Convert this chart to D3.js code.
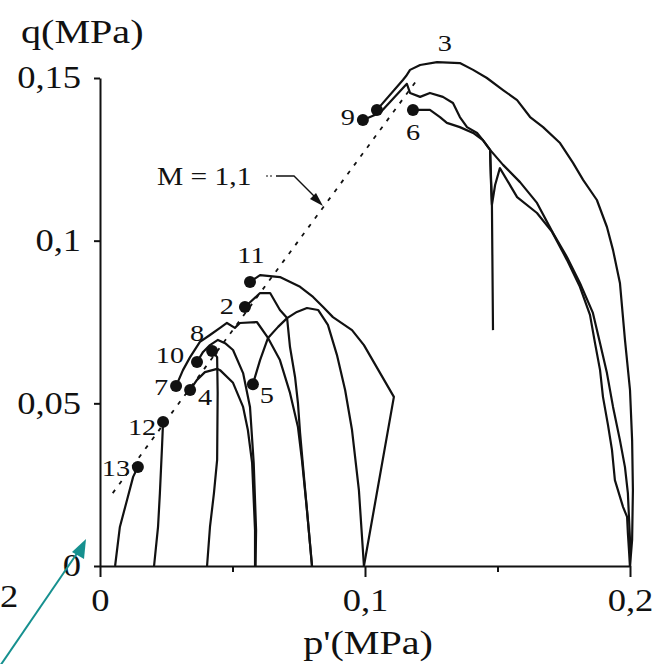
<!DOCTYPE html>
<html>
<head>
<meta charset="utf-8">
<script src="https://cdn.jsdelivr.net/npm/d3@7"></script>
<style>
  body { margin: 0; background: #fff; }
  svg text { font-family: "Liberation Serif", "Times New Roman", serif; fill: #111; }
</style>
</head>
<body>
<script>
// stress paths, each point is [p' (MPa), q (MPa)], from start (q = 0) to end
const path13 = [[0.0057,0],[0.0075,0.012],[0.0102,0.0203],[0.0125,0.0274],[0.0143,0.0304]];
const path12 = [[0.0204,0],[0.0219,0.012],[0.0226,0.0224],[0.0234,0.0366],[0.0238,0.0443]];
const path8  = [[0.0404,0],[0.0415,0.012],[0.043,0.0224],[0.0442,0.0326],[0.0444,0.0532],[0.0442,0.0642],[0.0423,0.0661]];
const path4  = [[0.0585,0],[0.0585,0.011],[0.0574,0.0317],[0.0558,0.0418],[0.054,0.0489],[0.0502,0.0563],
                [0.0453,0.0602],[0.0442,0.0606],[0.0396,0.0596],[0.0366,0.0572],[0.034,0.0541]];
const path10 = [[0.0587,0],[0.0589,0.011],[0.058,0.0317],[0.0566,0.0489],[0.054,0.0593],[0.0502,0.0664],
                [0.0472,0.0685],[0.0445,0.0695],[0.0415,0.0679],[0.0389,0.0658],[0.0366,0.0627]];
const path7  = [[0.08,0],[0.0781,0.0172],[0.0762,0.0326],[0.0747,0.0427],[0.0717,0.0532],[0.0679,0.0633],
                [0.0634,0.0701],[0.0592,0.075],[0.0528,0.0747],[0.0509,0.0732],[0.0479,0.0747],[0.0453,0.0732],
                [0.0415,0.071],[0.0377,0.0689],[0.034,0.0642],[0.0313,0.0602],[0.0287,0.0553]];
const path2  = [[0.08,0],[0.0781,0.0172],[0.0764,0.0326],[0.0755,0.0409],[0.0747,0.0501],[0.0736,0.0581],
                [0.0717,0.0673],[0.0706,0.0762],[0.0679,0.0787],[0.0642,0.0839],[0.0604,0.0839],[0.0547,0.0796]];
const path5  = [[0.0996,0],[0.0977,0.0233],[0.0951,0.0418],[0.0925,0.0541],[0.0894,0.0649],[0.086,0.0741],
                [0.0823,0.0787],[0.0781,0.0793],[0.0743,0.0781],[0.0706,0.0762],[0.0672,0.0735],[0.0634,0.0701],
                [0.0604,0.0633],[0.0577,0.0559]];
const path11 = [[0.0996,0],[0.1109,0.052],[0.0996,0.0679],[0.0951,0.0725],[0.0879,0.0765],[0.0842,0.0796],
                [0.0804,0.0827],[0.0755,0.0858],[0.0679,0.0888],[0.0604,0.0894],[0.0566,0.0873]];
const path3  = [[0.2,0],[0.2008,0.008],[0.2011,0.0234],[0.2008,0.0387],[0.2,0.0541],[0.1981,0.0695],[0.1962,0.087],
                [0.1936,0.0971],[0.1913,0.1042],[0.1875,0.1125],[0.1823,0.1187],[0.1785,0.1239],[0.1736,0.13],
                [0.1672,0.1349],[0.1623,0.138],[0.1574,0.1432],[0.1521,0.1463],[0.146,0.15],[0.1408,0.1525],
                [0.1358,0.1546],[0.1272,0.1549],[0.1208,0.154],[0.117,0.1525],[0.1155,0.1506],[0.1143,0.1494],[0.1045,0.1402]];
const path9  = [[0.2,0],[0.2,0.008],[0.1992,0.0224],[0.1981,0.0304],[0.1962,0.0387],[0.1936,0.0489],[0.1913,0.0593],
                [0.1887,0.0685],[0.186,0.0778],[0.1811,0.087],[0.1762,0.095],[0.1709,0.1024],[0.1649,0.1116],
                [0.1585,0.118],[0.1521,0.1233],[0.1472,0.1279],[0.1445,0.1309],[0.1423,0.1331],[0.1385,0.1349],
                [0.1358,0.138],[0.1332,0.1423],[0.1294,0.1442],[0.1245,0.1454],[0.1208,0.1442],[0.117,0.1454],
                [0.1158,0.1482],[0.1057,0.1393],[0.0992,0.1371]];
const path6  = [[0.2,0],[0.1992,0.0101],[0.1989,0.0151],[0.1974,0.0181],[0.1943,0.0264],[0.1932,0.0357],[0.1917,0.0433],
                [0.1898,0.052],[0.1887,0.0602],[0.1868,0.0685],[0.1849,0.0772],[0.1811,0.0858],[0.1762,0.0941],
                [0.1706,0.1027],[0.1649,0.1085],[0.1574,0.1134],[0.1509,0.1223],[0.1491,0.1171],[0.1479,0.111],
                [0.1475,0.1187],[0.1472,0.1279],[0.1445,0.1309],[0.1408,0.1331],[0.1358,0.1349],[0.1309,0.1362],
                [0.1283,0.138],[0.1245,0.1402],[0.1208,0.1402],[0.1181,0.1402]];
const path6drop = [[0.1472,0.1279],[0.1479,0.111],[0.1483,0.0725]];

// critical state line M = 1,1 (dashed), two ends
const csl = [[0.0048,0.0224],[0.1196,0.1494]];

// end points (filled dots) and their test numbers
const endIds = ["13","12","7","4","10","8","5","2","11","3","9","6"];
const endPts = [[0.0143,0.0304],[0.0238,0.0443],[0.0287,0.0553],[0.034,0.0541],[0.0366,0.0627],[0.0423,0.0661],
                [0.0577,0.0559],[0.0547,0.0796],[0.0566,0.0873],[0.1045,0.1402],[0.0992,0.1371],[0.1181,0.1402]];

const yTicks = [0, 0.05, 0.1, 0.15];
const xTicks = [0, 0.1, 0.2];
const xMinor = [0.05, 0.15];

const width = 661, height = 664;
const svg = d3.select("body").append("svg")
    .attr("width", width)
    .attr("height", height);

const x = d3.scaleLinear().domain([0, 0.2]).range([100, 630]);
const y = d3.scaleLinear().domain([0, 0.15]).range([566, 78]);
const comma = d => d3.format("")(d).replace(".", ",");

// horizontal stretch of the scanned lettering
const SX = 1.18;

// axes
const yAxis = svg.append("g")
    .attr("transform", "translate(100,0)")
    .call(d3.axisLeft(y).tickValues(yTicks).tickSize(6).tickSizeOuter(0).tickPadding(10).tickFormat(comma));
const xAxis = svg.append("g")
    .attr("transform", "translate(0,566)")
    .call(d3.axisBottom(x).tickValues(xTicks).tickSize(11).tickSizeOuter(0).tickPadding(12).tickFormat(comma));
svg.append("g")
    .attr("transform", "translate(0,566)")
    .call(d3.axisBottom(x).tickValues(xMinor).tickSize(6).tickSizeOuter(0).tickFormat(""))
    .select(".domain").remove();

svg.selectAll(".domain, .tick line").attr("stroke", "#111").attr("stroke-width", 2);
svg.selectAll(".tick text")
    .attr("font-size", 31)
    .attr("fill", "#111");
yAxis.selectAll(".tick text").attr("transform", `scale(${SX},1)`);
xAxis.selectAll(".tick text").attr("transform", `scale(${SX},1)`);

// text helper
function label(px, py, txt, size, anchor) {
  svg.append("text")
      .attr("transform", `translate(${px},${py}) scale(${SX},1)`)
      .attr("text-anchor", anchor || "middle")
      .attr("font-size", size)
      .text(txt);
}

label(21, 43, "q(MPa)", 34, "start");
label(368, 654, "p'(MPa)", 34, "middle");
// tick label of the neighbouring panel, only its last digit shows at the edge
label(0, 607, "2", 31, "start");

// critical state line
svg.append("path")
    .attr("d", d3.line().x(d => x(d[0])).y(d => y(d[1]))(csl))
    .attr("fill", "none")
    .attr("stroke", "#111")
    .attr("stroke-width", 1.8)
    .attr("stroke-dasharray", "4,7");

// stress paths
const line = d3.line().x(d => x(d[0])).y(d => y(d[1]));
const paths = [path13, path12, path8, path4, path10, path7, path2, path5, path11, path3, path9, path6, path6drop];
svg.selectAll("path.sp")
    .data(paths)
    .enter().append("path")
    .attr("class", "sp")
    .attr("d", line)
    .attr("fill", "none")
    .attr("stroke", "#111")
    .attr("stroke-width", 2.2)
    .attr("stroke-linejoin", "round");

// end dots
svg.selectAll("circle.end")
    .data(endPts)
    .enter().append("circle")
    .attr("class", "end")
    .attr("cx", d => x(d[0]))
    .attr("cy", d => y(d[1]))
    .attr("r", 6)
    .attr("fill", "#111");

// where each test number sits relative to its dot (px)
const labelOffset = {
  "13": [-22, 9], "12": [-21, 13], "7": [-15, 9], "4": [15, 15], "10": [-27, 1], "8": [-15, -10],
  "5": [14, 19], "2": [-18, 7], "11": [1, -19], "3": [68, -59], "9": [-15, 5], "6": [0, 30]
};
endIds.forEach((id, i) => {
  const o = labelOffset[id];
  label(x(endPts[i][0]) + o[0], y(endPts[i][1]) + o[1], id, 24, "middle");
});

// M = 1,1 callout
label(157, 185, "M = 1,1", 25, "start");
svg.append("path")
    .attr("d", "M266,176 L274,176")
    .attr("stroke", "#111").attr("stroke-width", 1.2).attr("stroke-dasharray", "2,2");
svg.append("path")
    .attr("d", "M276,176 L294,176 L316,198")
    .attr("fill", "none").attr("stroke", "#111").attr("stroke-width", 1.4);
svg.append("path")
    .attr("d", "M323,206 L310,199 L316,193 Z")
    .attr("fill", "#111");

// teal pointer arrow
svg.append("line")
    .attr("x1", 0).attr("y1", 666).attr("x2", 80).attr("y2", 549)
    .attr("stroke", "#16908f").attr("stroke-width", 2);
svg.append("path")
    .attr("d", "M86,539 L72,552 L84,559 Z")
    .attr("fill", "#16908f");
</script>
</body>
</html>
